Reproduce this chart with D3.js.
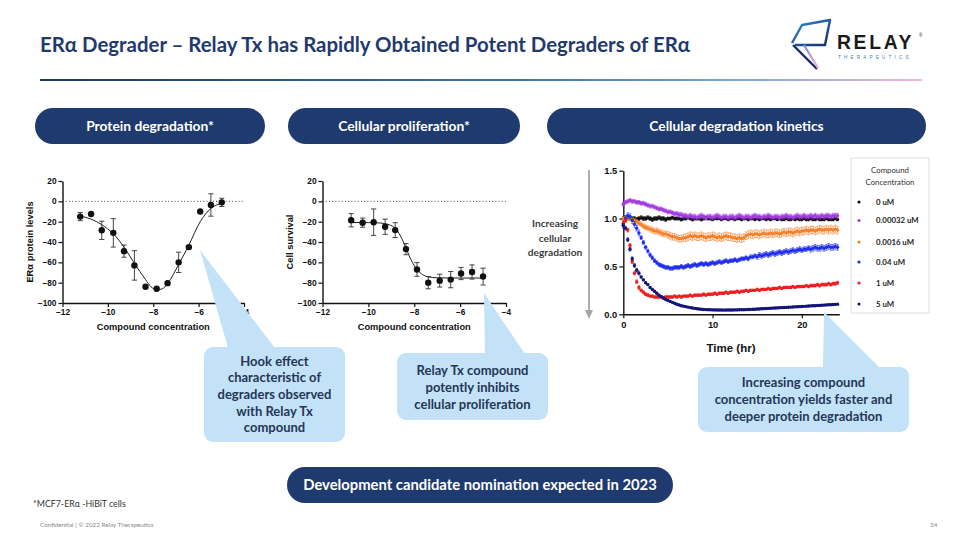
<!DOCTYPE html>
<html><head><meta charset="utf-8">
<script src="https://cdn.jsdelivr.net/npm/d3@7"></script>
<style>body{margin:0;background:#fff}svg{display:block}</style>
</head><body>
<svg id="s" width="960" height="540"></svg>
<script>
// ---------------- DATA ----------------
const xTicksConc = [-12, -10, -8, -6, -4];
const yTicksPct = [20, 0, -20, -40, -60, -80, -100];

// Protein degradation (ERα protein levels)
const degX   = [-11.22,-10.74,-10.27,-9.76,-9.29,-8.83,-8.34,-7.85,-7.37,-6.88,-6.43,-5.93,-5.46,-4.98];
const degY   = [-15,-12.5,-28.5,-31,-49,-63,-84,-86,-80.5,-60,-45,-10,-3.6,-1];
const degErr = [4,0,9,14,6,14.5,0,0,0,10,0,0,11,4];
const degFitX = [-11.22,-10.74,-10.27,-9.76,-9.29,-8.83,-8.34,-8.1,-7.85,-7.6,-7.37,-6.88,-6.43,-5.93,-5.46,-4.98];
const degFitY = [-14.5,-17.5,-23,-32,-45,-61,-77,-84,-87,-86,-81,-62,-43,-20,-7,-2];

// Cellular proliferation (cell survival)
const prolX   = [-10.75,-10.25,-9.77,-9.27,-8.83,-8.36,-7.88,-7.39,-6.89,-6.41,-5.96,-5.48,-5.0];
const prolY   = [-18.6,-21,-20.5,-25,-28.3,-47,-67,-80,-78,-77,-71,-69.5,-74];
const prolErr = [6.5,4.5,13,7.5,7.3,5.5,6.7,6,6.3,8,6,7,8.3];
const prolFitX = [-10.75,-10,-9.5,-9.1,-8.83,-8.6,-8.36,-8.14,-7.88,-7.64,-7.39,-7.0,-6.5,-5.0];
const prolFitY = [-20.8,-20.9,-21.3,-23,-26.5,-34,-46,-57.5,-67,-72,-74.3,-75.2,-75.4,-75.5];

// Cellular degradation kinetics (every 0.25 hr, 0..24 hr)
const kinTicksX = [0, 10, 20];
const kinTicksY = [0, 0.5, 1.0, 1.5];
const concLabels = ["0 uM","0.00032 uM","0.0016 uM","0.04 uM","1 uM","5 uM"];
const concColors = ["#111111","#a23be0","#f57f2a","#1f2cf0","#f01e1e","#14147a"];
const kin0 = [1.00,1.01,1.02,1.01,1.00,1.00,0.99,1.00,1.01,1.00,1.00,1.01,1.00,0.99,1.00,1.00,1.01,1.00,1.00,0.99,1.00,1.00,1.01,1.00,1.00,
 1.00,0.99,1.00,1.00,1.01,1.00,0.99,1.00,1.00,1.00,0.99,1.00,1.01,1.00,1.00,0.99,1.00,1.00,1.00,0.99,1.00,1.00,0.99,1.00,
 1.00,0.99,1.00,1.00,0.99,1.00,1.00,0.99,1.00,1.00,0.99,1.00,0.99,1.00,1.00,0.99,1.00,0.99,1.00,1.00,0.99,1.00,0.99,0.99,
 1.00,0.99,0.99,1.00,0.99,1.00,0.99,0.99,1.00,0.99,0.99,1.00,0.99,0.99,1.00,0.99,0.99,0.99,1.00,0.99,0.99,0.99,1.00,0.99];
const kin1 = [1.15,1.17,1.18,1.19,1.18,1.18,1.17,1.17,1.16,1.16,1.15,1.14,1.13,1.13,1.12,1.11,1.10,1.10,1.09,1.08,1.07,1.07,1.06,1.05,1.05,
 1.04,1.04,1.03,1.03,1.02,1.03,1.02,1.02,1.01,1.02,1.03,1.02,1.01,1.02,1.02,1.01,1.02,1.03,1.02,1.01,1.02,1.02,1.01,1.02,
 1.02,1.01,1.02,1.03,1.02,1.01,1.02,1.02,1.01,1.02,1.03,1.02,1.02,1.01,1.02,1.02,1.03,1.02,1.01,1.02,1.02,1.01,1.02,1.02,
 1.03,1.02,1.02,1.01,1.02,1.03,1.02,1.02,1.03,1.02,1.02,1.03,1.02,1.03,1.02,1.02,1.03,1.02,1.03,1.03,1.02,1.03,1.03,1.03];
const kin2 = [1.00,1.01,1.00,1.00,0.99,0.98,0.97,0.95,0.94,0.92,0.91,0.90,0.89,0.88,0.87,0.87,0.86,0.85,0.84,0.84,0.83,0.82,0.81,0.81,0.80,
 0.79,0.79,0.80,0.80,0.81,0.82,0.81,0.82,0.81,0.81,0.82,0.81,0.80,0.81,0.81,0.82,0.81,0.80,0.81,0.80,0.81,0.82,0.81,0.81,
 0.80,0.80,0.79,0.80,0.79,0.80,0.82,0.83,0.84,0.83,0.84,0.84,0.83,0.84,0.85,0.84,0.84,0.85,0.84,0.85,0.85,0.84,0.85,0.86,
 0.85,0.86,0.86,0.85,0.86,0.87,0.86,0.87,0.87,0.88,0.87,0.88,0.88,0.87,0.88,0.89,0.88,0.88,0.89,0.88,0.89,0.88,0.89,0.88];
const kin3 = [0.93,1.00,1.03,1.02,0.98,0.94,0.90,0.85,0.80,0.75,0.70,0.66,0.62,0.59,0.56,0.54,0.52,0.51,0.50,0.49,0.49,0.48,0.48,0.49,0.49,
 0.49,0.50,0.49,0.50,0.51,0.50,0.51,0.52,0.51,0.52,0.53,0.52,0.53,0.52,0.53,0.54,0.53,0.54,0.55,0.54,0.55,0.56,0.55,0.56,
 0.56,0.57,0.56,0.57,0.58,0.58,0.59,0.58,0.60,0.60,0.61,0.60,0.62,0.61,0.62,0.63,0.62,0.63,0.64,0.63,0.64,0.65,0.64,0.65,
 0.66,0.65,0.66,0.67,0.66,0.67,0.68,0.67,0.68,0.68,0.69,0.68,0.69,0.70,0.69,0.69,0.70,0.69,0.70,0.71,0.70,0.70,0.71,0.70];
const kin4 = [0.95,0.98,0.88,0.72,0.55,0.43,0.34,0.28,0.25,0.23,0.21,0.20,0.19,0.19,0.18,0.18,0.18,0.18,0.17,0.18,0.18,0.18,0.18,0.19,0.18,
 0.19,0.18,0.19,0.19,0.19,0.20,0.19,0.20,0.20,0.20,0.20,0.21,0.20,0.21,0.21,0.21,0.22,0.21,0.22,0.22,0.22,0.23,0.22,0.23,
 0.23,0.23,0.24,0.23,0.24,0.24,0.25,0.24,0.25,0.25,0.25,0.26,0.25,0.26,0.26,0.26,0.27,0.26,0.27,0.27,0.27,0.28,0.27,0.28,
 0.28,0.28,0.28,0.29,0.28,0.29,0.29,0.29,0.29,0.30,0.29,0.30,0.30,0.30,0.31,0.30,0.31,0.31,0.31,0.32,0.31,0.32,0.32,0.33];
const kin5 = [0.93,0.90,0.78,0.68,0.58,0.51,0.46,0.43,0.39,0.36,0.33,0.31,0.28,0.26,0.24,0.22,0.20,0.185,0.17,0.155,0.145,0.135,0.125,0.115,0.105,
 0.097,0.09,0.085,0.08,0.075,0.07,0.066,0.062,0.058,0.055,0.052,0.05,0.049,0.048,0.047,0.046,0.046,0.045,0.045,0.045,0.044,0.045,0.045,0.045,
 0.045,0.046,0.046,0.047,0.047,0.048,0.049,0.05,0.051,0.052,0.053,0.055,0.056,0.058,0.059,0.06,0.062,0.063,0.065,0.066,0.067,0.068,0.07,0.071,
 0.072,0.073,0.075,0.076,0.078,0.079,0.08,0.082,0.083,0.085,0.086,0.088,0.089,0.09,0.092,0.093,0.095,0.096,0.098,0.099,0.10,0.102,0.104,0.106];
// error half-widths, hourly (0..24 hr)
const kinErr0 = [0.02,0.02,0.02,0.02,0.02,0.015,0.015,0.015,0.015,0.015,0.012,0.012,0.012,0.012,0.012,0.012,0.012,0.012,0.012,0.012,0.012,0.012,0.012,0.012,0.012];
const kinErr1 = [0.02,0.02,0.02,0.02,0.02,0.02,0.025,0.025,0.025,0.025,0.025,0.025,0.025,0.025,0.025,0.025,0.025,0.025,0.025,0.025,0.025,0.025,0.025,0.025,0.025];
const kinErr2 = [0.02,0.02,0.025,0.03,0.03,0.035,0.035,0.04,0.04,0.04,0.04,0.04,0.04,0.04,0.04,0.04,0.04,0.04,0.04,0.04,0.04,0.04,0.04,0.04,0.04];
const kinErr3 = [0.03,0.03,0.02,0.02,0.02,0.02,0.02,0.02,0.02,0.02,0.02,0.02,0.02,0.02,0.02,0.025,0.025,0.025,0.025,0.025,0.025,0.03,0.03,0.03,0.03];
const kinErr4 = [0.02,0.02,0.015,0.012,0.012,0.012,0.012,0.012,0.012,0.012,0.012,0.012,0.012,0.012,0.012,0.012,0.012,0.012,0.012,0.012,0.012,0.015,0.015,0.015,0.015];
const kinErr5 = [0.02,0.02,0.01,0.01,0.01,0.008,0.008,0.008,0.008,0.008,0.008,0.008,0.008,0.008,0.008,0.008,0.008,0.008,0.008,0.008,0.008,0.008,0.008,0.008,0.008];
const kinSeries = [kin0, kin1, kin2, kin3, kin4, kin5];
const kinErrs = [kinErr0, kinErr1, kinErr2, kinErr3, kinErr4, kinErr5];
const kinTimes = d3.range(0, 24.001, 0.25);

// ---------------- DRAW ----------------
const svg = d3.select("#s");
const defs = svg.append("defs");
const NAVY = "#1f3a6e";
const SANS = "Lato, 'Open Sans', sans-serif";
const ARIAL = "'Liberation Sans', Arial, sans-serif";

// header gradient rule
const lg = defs.append("linearGradient").attr("id","rule").attr("x1","0").attr("x2","1");
lg.append("stop").attr("offset","0").attr("stop-color","#1f3566");
lg.append("stop").attr("offset","0.55").attr("stop-color","#3b78ad");
lg.append("stop").attr("offset","0.8").attr("stop-color","#7fa9d3");
lg.append("stop").attr("offset","1").attr("stop-color","#f2b6d6");
svg.append("rect").attr("x",40).attr("y",79).attr("width",882).attr("height",2).attr("fill","url(#rule)");

svg.append("text").attr("x",40).attr("y",52).attr("font-family",SANS).attr("font-weight",700)
  .attr("font-size",20.4).attr("fill",NAVY).text("ERα Degrader – Relay Tx has Rapidly Obtained Potent Degraders of ERα");

// logo
const lgo = defs.append("linearGradient").attr("id","logo").attr("x1","0").attr("y1","0").attr("x2","1").attr("y2","1");
lgo.append("stop").attr("offset","0").attr("stop-color","#3c8fd8");
lgo.append("stop").attr("offset","0.6").attr("stop-color","#1d4f9c");
lgo.append("stop").attr("offset","1").attr("stop-color","#1a2a6a");
const lgp = defs.append("linearGradient").attr("id","logop").attr("x1","0").attr("y1","0").attr("x2","0").attr("y2","1");
lgp.append("stop").attr("offset","0").attr("stop-color","#7d8fd8");
lgp.append("stop").attr("offset","1").attr("stop-color","#f0b4d8");
svg.append("path").attr("d","M792,43 L802,25 L830,20 L825,45 L795,45").attr("fill","none")
  .attr("stroke","url(#logo)").attr("stroke-width",2.4).attr("stroke-linejoin","round");
svg.append("path").attr("d","M793,45 L817,69").attr("stroke","#1c2a66").attr("stroke-width",2.4).attr("fill","none");
svg.append("path").attr("d","M804,45 L818,68").attr("stroke","url(#logop)").attr("stroke-width",2.2).attr("fill","none");
svg.append("text").attr("x",837).attr("y",49).attr("font-family",ARIAL).attr("font-weight",700)
  .attr("font-size",19.3).attr("letter-spacing",2.7).attr("fill","#1a1a1a").text("RELAY");
svg.append("text").attr("x",919).attr("y",37).attr("font-family",ARIAL).attr("font-size",4.5).attr("fill","#1a1a1a").text("®");
svg.append("text").attr("x",838).attr("y",59).attr("font-family",ARIAL).attr("font-size",4.6)
  .attr("letter-spacing",3.2).attr("fill","#3f82c4").text("THERAPEUTICS");

// pills
function pill(x, y, w, h, label, fs) {
  svg.append("rect").attr("x",x).attr("y",y).attr("width",w).attr("height",h).attr("rx",h/2).attr("fill",NAVY);
  svg.append("text").attr("x",x+w/2).attr("y",y+h/2+4.8).attr("text-anchor","middle").attr("font-family",SANS)
    .attr("font-weight",700).attr("font-size",fs).attr("fill","#fff").text(label);
}
pill(35,108,230,36,"Protein degradation*",13.8);
pill(288,108,232,36,"Cellular proliferation*",13.8);
pill(547,108,379,36,"Cellular degradation kinetics",13.8);
pill(287,467,386,36,"Development candidate nomination  expected in 2023",14.8);

// dose-response chart helper
function doseChart(x0, x1, ytitle, xs, ys, es, fx, fy) {
  const x = d3.scaleLinear().domain([-12,-4]).range([x0,x1]);
  const y = d3.scaleLinear().domain([-100,20]).range([303,181]);
  const g = svg.append("g");
  g.append("line").attr("x1",x(-12)).attr("x2",x(-4)).attr("y1",y(0)).attr("y2",y(0))
    .attr("stroke","#444").attr("stroke-width",1).attr("stroke-dasharray","1,2.2");
  const ax = g.append("g").attr("transform",`translate(0,${y(-100)})`)
    .call(d3.axisBottom(x).tickValues(xTicksConc).tickSize(4).tickSizeOuter(0).tickPadding(2));
  const ay = g.append("g").attr("transform",`translate(${x(-12)},0)`)
    .call(d3.axisLeft(y).tickValues(yTicksPct).tickSize(4).tickSizeOuter(0).tickPadding(2));
  [ax, ay].forEach(a => {
    a.select(".domain").attr("stroke","#111").attr("stroke-width",1.4);
    a.selectAll(".tick line").attr("stroke","#111").attr("stroke-width",1.2);
    a.selectAll(".tick text").attr("font-family",ARIAL).attr("font-weight",700).attr("font-size",8.3).attr("fill","#111");
  });
  g.append("text").attr("x",(x0+x1)/2).attr("y",330).attr("text-anchor","middle").attr("font-family",ARIAL)
    .attr("font-weight",700).attr("font-size",9.3).attr("fill","#111").text("Compound concentration");
  g.append("text").attr("transform",`translate(${x0-30},${y(-40)}) rotate(-90)`).attr("text-anchor","middle")
    .attr("font-family",ARIAL).attr("font-weight",700).attr("font-size",9.3).attr("fill","#111").text(ytitle);
  const line = d3.line().x((d,i)=>x(fx[i])).y((d,i)=>y(fy[i])).curve(d3.curveMonotoneX);
  g.append("path").attr("d",line(fx)).attr("fill","none").attr("stroke","#222").attr("stroke-width",1);
  xs.forEach((xv,i) => {
    if (es[i] > 0) {
      const cx = x(xv), t = y(ys[i]+es[i]), b = y(ys[i]-es[i]);
      g.append("line").attr("x1",cx).attr("x2",cx).attr("y1",t).attr("y2",b).attr("stroke","#333").attr("stroke-width",0.9);
      g.append("line").attr("x1",cx-2.6).attr("x2",cx+2.6).attr("y1",t).attr("y2",t).attr("stroke","#333").attr("stroke-width",0.9);
      g.append("line").attr("x1",cx-2.6).attr("x2",cx+2.6).attr("y1",b).attr("y2",b).attr("stroke","#333").attr("stroke-width",0.9);
    }
    g.append("circle").attr("cx",x(xv)).attr("cy",y(ys[i])).attr("r",3.2).attr("fill","#111");
  });
}
doseChart(62.5, 244, "ERα protein levels", degX, degY, degErr, degFitX, degFitY);
doseChart(322.5, 506, "Cell survival", prolX, prolY, prolErr, prolFitX, prolFitY);

// kinetics chart
const xk = d3.scaleLinear().domain([0,24.2]).range([623.3,839.3]);
const yk = d3.scaleLinear().domain([0,1.5]).range([314.3,170.7]);
const gk = svg.append("g");
const kax = gk.append("g").attr("transform",`translate(0,${yk(0)})`)
  .call(d3.axisBottom(xk).tickValues(kinTicksX).tickFormat(d3.format("d")).tickSize(4).tickSizeOuter(0).tickPadding(3));
const kay = gk.append("g").attr("transform",`translate(${xk(0)},0)`)
  .call(d3.axisLeft(yk).tickValues(kinTicksY).tickFormat(d3.format(".1f")).tickSize(4).tickSizeOuter(0).tickPadding(2));
[kax, kay].forEach(a => {
  a.select(".domain").attr("stroke","#111").attr("stroke-width",1.4);
  a.selectAll(".tick line").attr("stroke","#111").attr("stroke-width",1.2);
  a.selectAll(".tick text").attr("font-family",ARIAL).attr("font-weight",700).attr("font-size",9.3).attr("fill","#111");
});
gk.append("text").attr("x",731).attr("y",352).attr("text-anchor","middle").attr("font-family",ARIAL)
  .attr("font-weight",700).attr("font-size",11.5).attr("fill","#111").text("Time (hr)");
kinSeries.forEach((ser, s) => {
  const col = concColors[s];
  const gs = gk.append("g");
  ser.forEach((v, i) => {
    const t = kinTimes[i];
    const e = kinErrs[s][Math.floor(t)];
    const cx = xk(t), top = yk(v+e), bot = yk(v-e);
    gs.append("line").attr("x1",cx).attr("x2",cx).attr("y1",top).attr("y2",bot).attr("stroke",col).attr("stroke-width",0.7).attr("opacity",0.85);
    gs.append("line").attr("x1",cx-1.3).attr("x2",cx+1.3).attr("y1",top).attr("y2",top).attr("stroke",col).attr("stroke-width",0.7).attr("opacity",0.85);
    gs.append("line").attr("x1",cx-1.3).attr("x2",cx+1.3).attr("y1",bot).attr("y2",bot).attr("stroke",col).attr("stroke-width",0.7).attr("opacity",0.85);
    gs.append("circle").attr("cx",cx).attr("cy",yk(v)).attr("r",1.7).attr("fill",col);
  });
});

// legend
svg.append("rect").attr("x",851).attr("y",158).attr("width",78).attr("height",155).attr("fill","#fff")
  .attr("stroke","#d6d6d6").attr("stroke-width",0.8);
svg.append("text").attr("x",890).attr("y",173).attr("text-anchor","middle").attr("font-family",SANS)
  .attr("font-size",7.8).attr("fill","#333").text("Compound");
svg.append("text").attr("x",890).attr("y",185).attr("text-anchor","middle").attr("font-family",SANS)
  .attr("font-size",7.8).attr("fill","#333").text("Concentration");
const legY = [202, 220.5, 242, 262, 283, 304];
concLabels.forEach((lab, i) => {
  svg.append("circle").attr("cx",859).attr("cy",legY[i]).attr("r",1.6).attr("fill",concColors[i]);
  svg.append("text").attr("x",876).attr("y",legY[i]+2.7).attr("font-family",SANS).attr("font-weight",700)
    .attr("font-size",7.8).attr("fill","#222").text(lab);
});

// increasing cellular degradation arrow
svg.append("line").attr("x1",589).attr("x2",589).attr("y1",170).attr("y2",311).attr("stroke","#a6a6a6").attr("stroke-width",1.8);
svg.append("path").attr("d","M585,310 L593,310 L589,319 Z").attr("fill","#a6a6a6");
["Increasing","cellular","degradation"].forEach((t,i) => {
  svg.append("text").attr("x",555).attr("y",227+i*14.5).attr("text-anchor","middle").attr("font-family",SANS)
    .attr("font-weight",700).attr("font-size",10.2).attr("fill","#3c3c3c").text(t);
});

// callouts
const CALL = "#c3e2f7";
function callout(x, y, w, h, wedge, lines, lineY, fs) {
  svg.append("path").attr("d",`M${wedge[0][0]},${wedge[0][1]} L${wedge[1][0]},${wedge[1][1]} L${wedge[2][0]},${wedge[2][1]} Z`).attr("fill",CALL);
  svg.append("rect").attr("x",x).attr("y",y).attr("width",w).attr("height",h).attr("rx",9).attr("fill",CALL);
  lines.forEach((t,i) => {
    svg.append("text").attr("x",x+w/2).attr("y",lineY[i]).attr("text-anchor","middle").attr("font-family",SANS)
      .attr("font-weight",700).attr("font-size",fs).attr("fill","#243656").text(t);
  });
}
callout(204,347,141,95,[[200,250],[228,348],[275,348]],
  ["Hook effect","characteristic of","degraders observed","with Relay Tx","compound"],[365.5,382.2,398.5,415.5,431.8],13);
callout(397,353,151,67,[[484,293],[485,354],[525,354]],
  ["Relay Tx compound","potently inhibits","cellular proliferation"],[375.2,392.2,408.5],13);
callout(698,367,211,65,[[824,312],[823,368],[880,368]],
  ["Increasing compound","concentration yields faster and","deeper protein degradation"],[387.2,403.8,420.5],13);

// footnotes
svg.append("text").attr("x",33).attr("y",507).attr("font-family",SANS).attr("font-size",8.8).attr("fill","#333").text("*MCF7-ERα -HiBiT cells");
svg.append("text").attr("x",40).attr("y",527).attr("font-family",SANS).attr("font-size",6.3).attr("fill","#8a8a8a").text("Confidential  |  © 2022 Relay Therapeutics");
svg.append("text").attr("x",930).attr("y",527).attr("font-family",SANS).attr("font-size",6.3).attr("fill","#8a8a8a").text("34");
</script>
</body></html>
